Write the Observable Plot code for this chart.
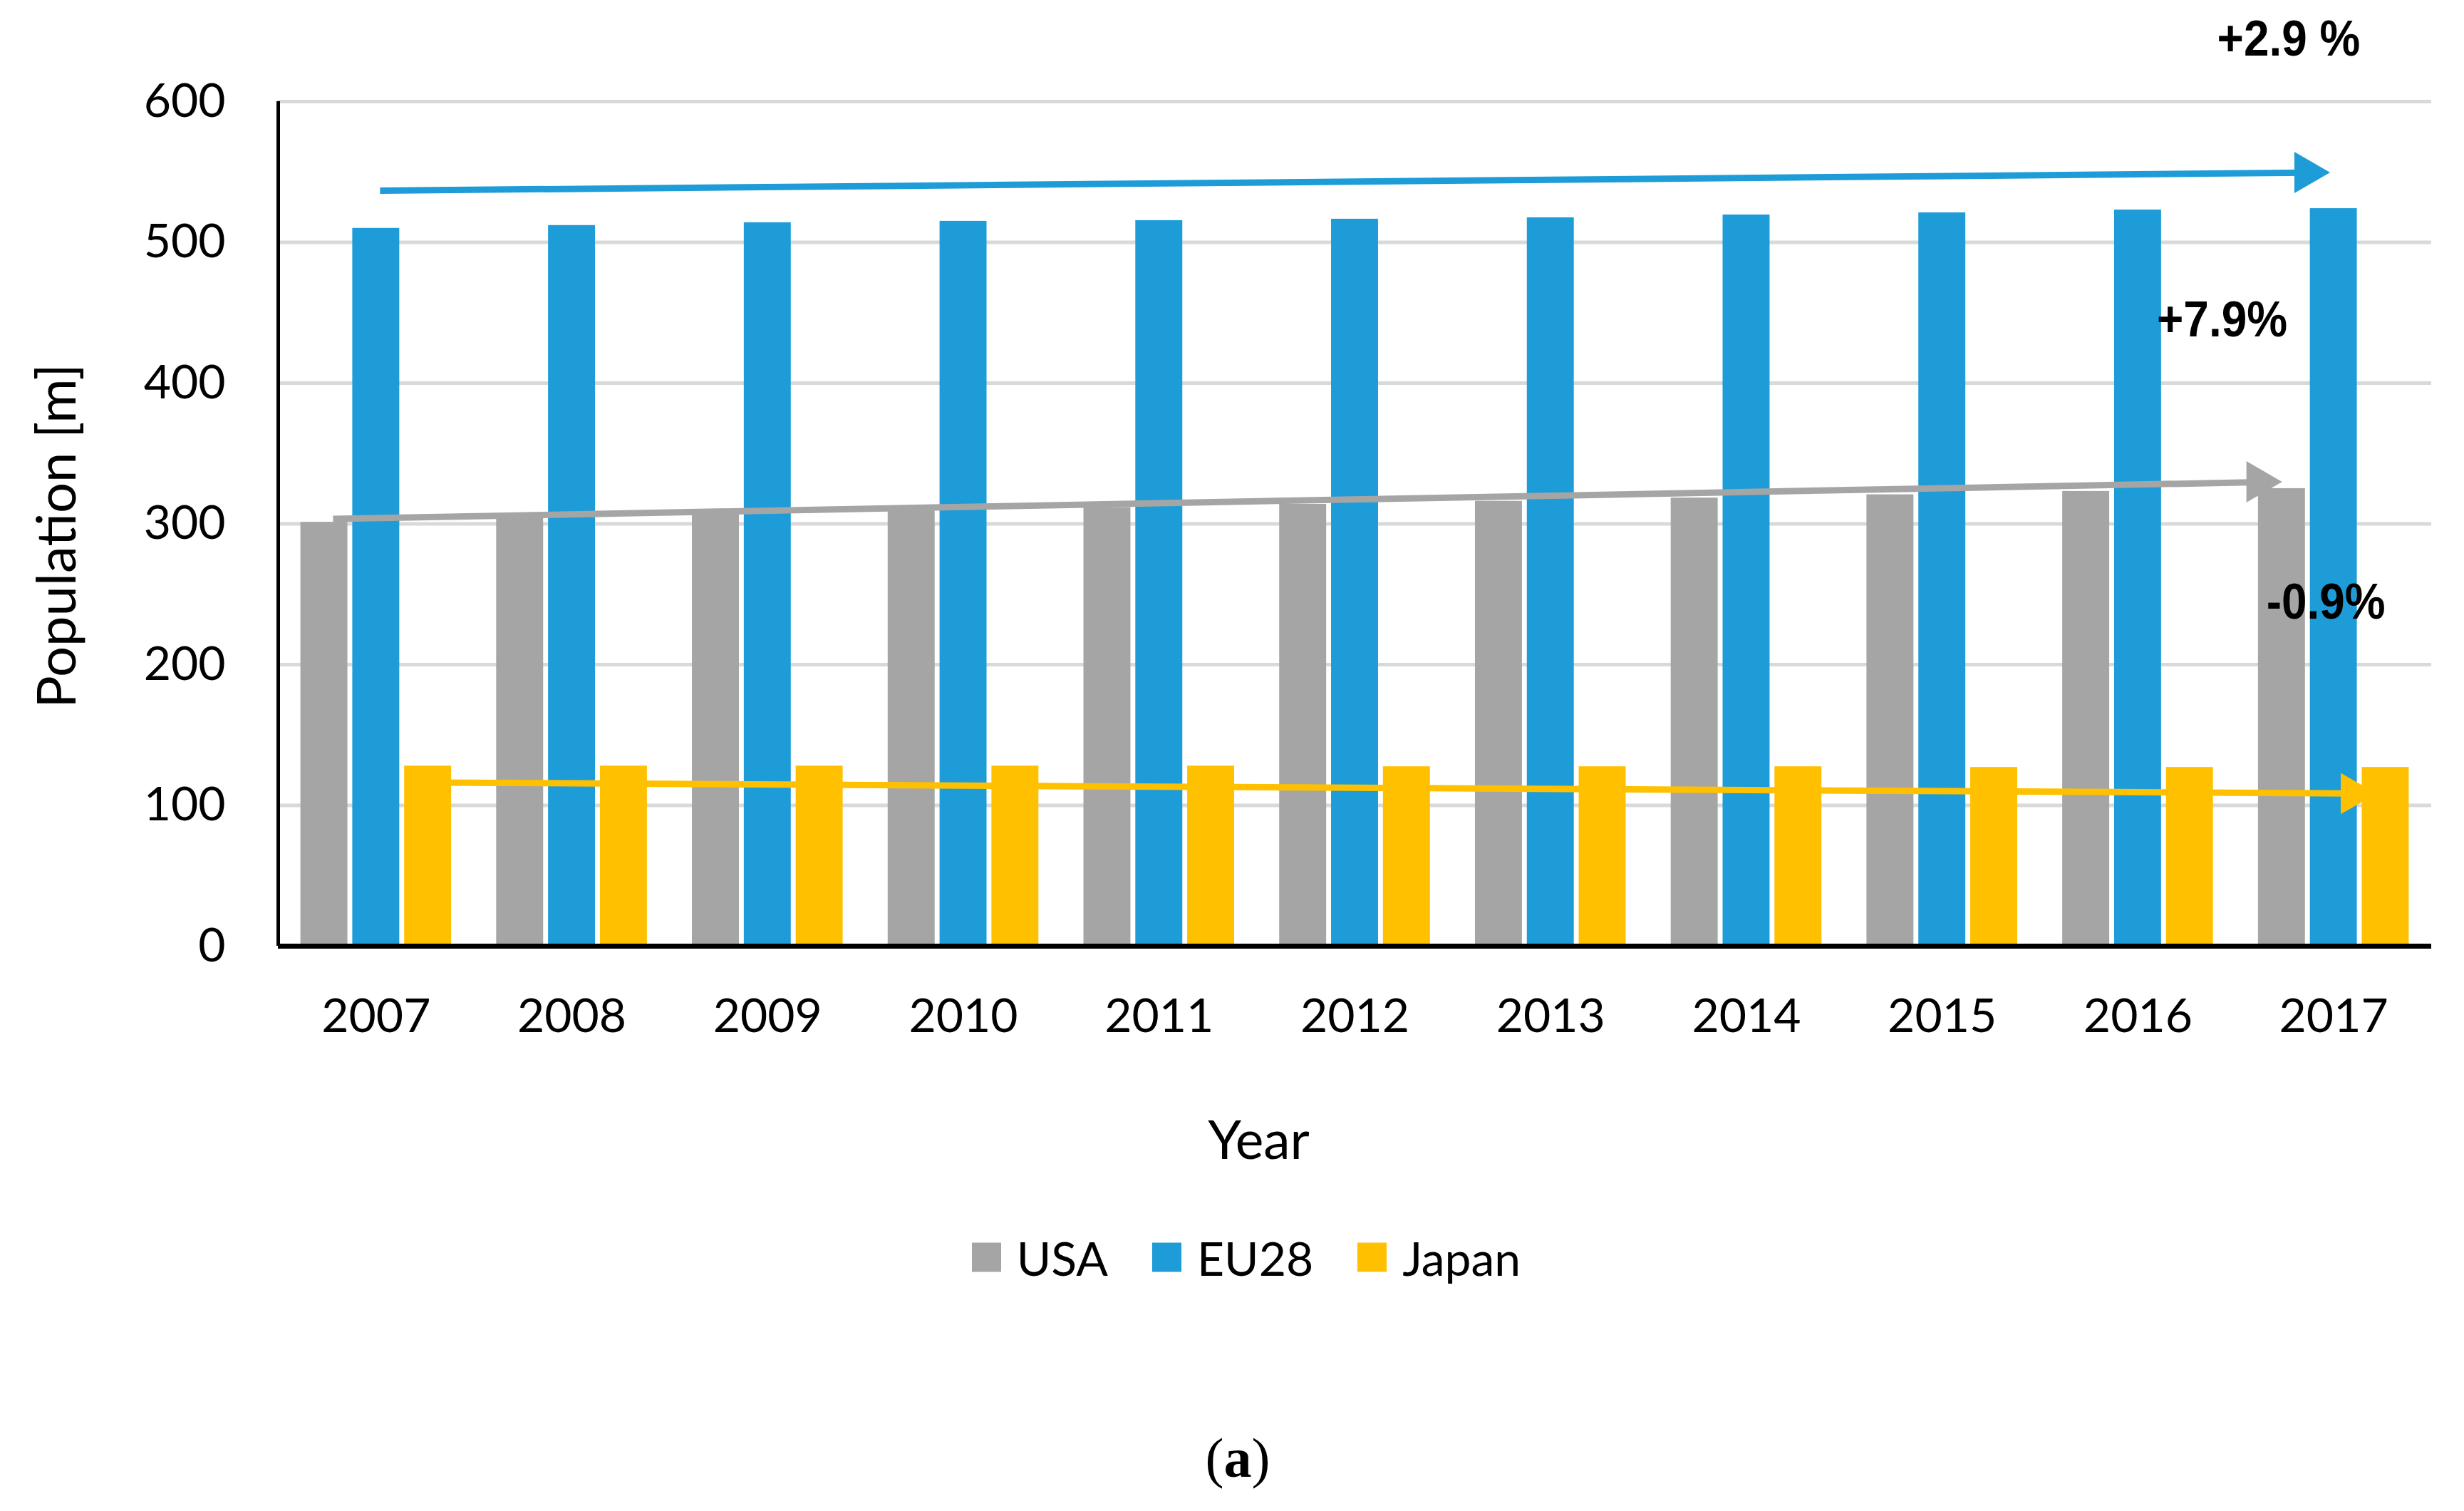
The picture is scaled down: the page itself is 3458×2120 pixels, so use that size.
<!DOCTYPE html>
<html>
<head>
<meta charset="utf-8">
<script src="https://cdn.jsdelivr.net/npm/d3@7"></script>
<script src="https://cdn.jsdelivr.net/npm/@observablehq/plot@0.6"></script>
<style>
html, body { margin: 0; padding: 0; background: #fff; overflow: hidden; }
body { width: 3458px; height: 2120px; position: relative; font-family: Lato, "Noto Sans", sans-serif; color: #000; }
#chart { position: absolute; left: 0; top: 0; }
.legend { position: absolute; left: 0; top: 1764px; width: 3458px; transform: translateY(-50%);
  display: flex; justify-content: center; align-items: center; font-size: 66px; padding-left: 40px; box-sizing: border-box; }
.item { display: flex; align-items: center; margin: 0 31px; }
.sw { width: 41px; height: 41px; margin-right: 22px; }
.caption { position: absolute; left: 0; top: 2046px; width: 3458px; text-align: center; transform: translateY(-50%);
  font-family: "Liberation Serif", "DejaVu Serif", serif; font-size: 78px; padding-left: 16px; box-sizing: border-box; }
</style>
</head>
<body>
<div id="chart"></div>
<div class="legend" id="legend"></div>
<div class="caption">(<b>a</b>)</div>
<script>
// ---- data ----
const years = [2007, 2008, 2009, 2010, 2011, 2012, 2013, 2014, 2015, 2016, 2017];
const usa   = [301.2, 304.1, 306.8, 309.3, 311.6, 313.9, 316.1, 318.4, 320.7, 323.1, 325.1];
const eu28  = [510, 512, 514, 515, 515.5, 516.5, 517.5, 519.5, 521, 523, 524];
const japan = [128, 128, 128, 128, 128, 127.5, 127.5, 127.5, 127, 127, 127];
const seriesNames  = ["USA", "EU28", "Japan"];
const seriesColors = ["#a5a5a5", "#1e9cd7", "#ffc000"];
const yTicks = [0, 100, 200, 300, 400, 500, 600];

// trend arrows drawn over the bars
const trendSeries     = ["EU28", "USA", "Japan"];
const trendStartYear  = [2007.02, 2006.78, 2007.3];
const trendStartValue = [536.7, 303.5, 116.2];
const trendEndYear    = [2016.98, 2016.735, 2017.217];
const trendEndValue   = [549.6, 329.9, 108.4];

// change annotations
const changeLabels     = ["+2.9 %", "+7.9%", "-0.9%"];
const changeLabelYear  = [2016.77, 2016.43, 2016.96];
const changeLabelValue = [644, 444.6, 244];

// ---- tables built from the arrays ----
const valuesBySeries = [usa, eu28, japan];
const barW = 0.24, barGap = 0.025;
const bars = seriesNames.flatMap((s, i) => years.map((yr, j) => {
  const c = yr + (i - 1) * (barW + barGap);
  return {series: s, year: yr, value: valuesBySeries[i][j], x1: c - barW / 2, x2: c + barW / 2};
}));
const trends = trendSeries.map((s, i) => ({
  series: s, x1: trendStartYear[i], y1: trendStartValue[i], x2: trendEndYear[i], y2: trendEndValue[i]
}));
const notes = changeLabels.map((t, i) => ({text: t, x: changeLabelYear[i], y: changeLabelValue[i]}));

const W = 3458, H = 1680;
const chart = Plot.plot({
  width: W, height: H,
  marginTop: 142, marginBottom: H - 1327, marginLeft: 390, marginRight: 46,
  style: {fontFamily: "Lato, 'Noto Sans', sans-serif", fontSize: "66px", color: "#000", background: "#fff", overflow: "visible"},
  x: {domain: [years[0] - 0.5, years[years.length - 1] + 0.5], label: null},
  y: {domain: [0, 600], label: null},
  color: {domain: seriesNames, range: seriesColors},
  marks: [
    Plot.gridY(yTicks, {stroke: "#d9d9d9", strokeOpacity: 1, strokeWidth: 5}),
    Plot.rectY(bars, {x1: "x1", x2: "x2", y: "value", fill: "series"}),
    Plot.ruleX([years[0] - 0.5], {stroke: "#000", strokeWidth: 5}),
    Plot.ruleY([0], {stroke: "#000", strokeWidth: 7}),
    Plot.axisY(yTicks, {tickSize: 0, tickPadding: 74, fontSize: 66, label: null}),
    Plot.axisX(years, {tickSize: 0, tickPadding: 74, fontSize: 66, tickFormat: d => String(d), label: null}),
    Plot.text(["Population [m]"], {text: d => d, frameAnchor: "left", textAnchor: "middle", rotate: -90,
      lineAnchor: "top", dx: -338, dy: 17, fontSize: 76}),
    Plot.text(["Year"], {text: d => d, frameAnchor: "bottom", lineAnchor: "middle", dx: -135, dy: 274, fontSize: 75}),
    Plot.arrow(trends, {x1: "x1", y1: "y1", x2: "x2", y2: "y2", stroke: "series", strokeWidth: 9,
      headLength: 0, insetEnd: 33, strokeLinecap: "butt"}),
    Plot.dot(trends, {x: "x2", y: "y2", symbol: "triangle", r: 21.5, fill: "series", stroke: null,
      rotate: 90, dx: -33}),
    Plot.text(notes, {x: "x", y: "y", text: "text", fontWeight: "bold",
      fontFamily: "'Liberation Sans Narrow', 'Liberation Sans', Arial, sans-serif", fontSize: 71})
  ]
});
document.getElementById("chart").appendChild(chart);

// the annotation font in the reference is a condensed bold face: compress horizontally
d3.select(chart).selectAll("g[font-weight='bold'] text").each(function() {
  const len = this.getComputedTextLength();
  this.setAttribute("textLength", (len * 0.9).toFixed(1));
  this.setAttribute("lengthAdjust", "spacingAndGlyphs");
});

const legend = document.getElementById("legend");
seriesNames.forEach((s, i) => {
  const item = document.createElement("div");
  item.className = "item";
  const sw = document.createElement("div");
  sw.className = "sw";
  sw.style.background = seriesColors[i];
  const lab = document.createElement("span");
  lab.textContent = s;
  item.appendChild(sw); item.appendChild(lab);
  legend.appendChild(item);
});
</script>
</body>
</html>
